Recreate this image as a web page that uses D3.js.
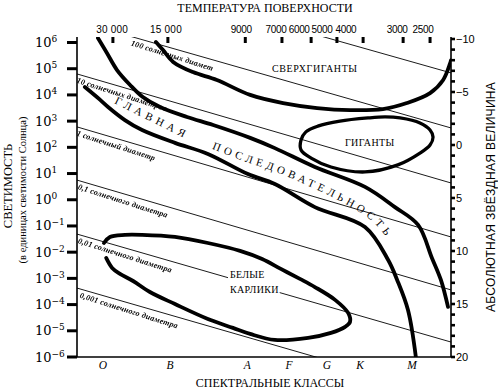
<!DOCTYPE html>
<html>
<head>
<meta charset="utf-8">
<script src="https://cdn.jsdelivr.net/npm/d3@7"></script>
<style>
  body { margin: 0; background: #fff; }
  svg { display: block; }
  .serif { font-family: 'Liberation Serif', 'DejaVu Serif', serif; }
  .sans { font-family: 'Liberation Sans', 'DejaVu Sans', sans-serif; }
  .gray { filter: grayscale(1); }
</style>
</head>
<body>
<svg id="chart" width="498" height="391"></svg>
<script>
// horizontal axis is a spectral index 0..100 (O on the left, M on the right)
const temperatures = ['30 000', '15 000', '9000', '7000', '6000', '5000', '4000', '3000', '2500'];
const temperatureTicks = [9.6, 24.3, 45.0, 54.8, 62.6, 69.5, 76.5, 87.2, 94.4];
const temperatureLabelAt = [9.4, 23.8, 43.9, 53.2, 59.4, 65.5, 71.9, 85.6, 92.5];

const spectralClasses = ['O', 'B', 'A', 'F', 'G', 'K', 'M'];
const spectralAt = [6.9, 24.9, 45.5, 56.7, 66.8, 75.7, 89.6];

const luminosityExponents = [-6, -5, -4, -3, -2, -1, 0, 1, 2, 3, 4, 5, 6];
const magnitudeLabels = [-10, -5, 0, 5, 10, 15, 20];

// lines of constant diameter: log10 L at the left and right edge
const diameterLabels = ['', '100 солнечных диамет', '10 солнечных диаметров', '1 солнечный диаметр',
  '0,1 солнечного диаметра', '0,01 солнечного диаметра', '0,001 солнечного диаметра'];
const diameterLeft = [8.88, 6.82, 4.80, 2.78, 0.75, -1.31, -3.37];
const diameterRight = [4.84, 2.74, 0.64, -1.42, -3.44, -5.43, -7.49];
const diameterLabelAt = [0, 15, 0.5, 0.5, 0.8, 0.8, 1.3];

// region outlines, [spectral index, log10 L]
const supergiantEdge = [[21.1, 6.02], [23.0, 5.71], [25.7, 5.26], [31.0, 4.87], [37.4, 4.57], [46.3, 4.00],
  [55.1, 3.69], [64.2, 3.50], [73.0, 3.42], [81.8, 3.46], [88.2, 3.69], [94.4, 4.07], [97.9, 4.57],
  [99.7, 5.18], [100, 5.33]];
const mainSequenceUpper = [[5.6, 6.17], [8.0, 5.60], [10.7, 4.95], [14.2, 4.38], [17.6, 3.92], [22.2, 3.54],
  [29.4, 3.16], [36.4, 2.85], [46.3, 2.36], [52.9, 1.97], [63.6, 1.25], [77.0, 0.49], [85.0, -0.28],
  [91.2, -0.96], [94.9, -2.22], [97.3, -3.06], [99.2, -4.09]];
const mainSequenceLower = [[2.1, 4.30], [6.2, 3.81], [8.3, 3.54], [12.8, 3.04], [17.4, 2.66], [26.2, 2.17],
  [35.0, 1.75], [45.7, 0.98], [52.9, 0.60], [63.6, -0.28], [77.0, -1.04], [83.2, -2.30], [85.6, -3.06],
  [88.5, -4.21], [90.6, -6.0]];
const giants = [[59.9, 1.90], [59.9, 2.28], [61.2, 2.59], [64.4, 2.81], [70.3, 3.00], [77.8, 3.12],
  [82.4, 3.16], [86.4, 3.12], [91.7, 2.93], [94.4, 2.66], [95.2, 2.39], [94.4, 2.09], [91.7, 1.78],
  [85.8, 1.33], [77.0, 1.06], [67.9, 1.25], [62.6, 1.59]];
const whiteDwarfs = [[7.2, -1.65], [8.8, -1.42], [12.8, -1.34], [17.4, -1.34], [26.2, -1.42], [35.0, -1.65],
  [43.6, -1.95], [49.5, -2.26], [54.5, -2.64], [59.6, -3.02], [63.6, -3.33], [69.0, -3.82], [72.5, -4.32],
  [73.0, -4.66], [71.7, -4.85], [67.9, -5.08], [61.8, -5.27], [52.9, -5.35], [46.3, -5.12], [41.7, -4.89],
  [35.0, -4.55], [26.2, -3.98], [19.5, -3.52], [15.0, -3.10], [11.5, -2.83], [9.4, -2.60], [7.8, -2.22]];

// text paths for the main sequence caption
const mainPathA = [[9.9, 3.69], [32.9, 2.05]];
const mainPathB = [[36.1, 1.94], [45.2, 1.44], [52.4, 1.10], [61.8, 0.53], [69.8, -0.01], [75.1, -0.43],
  [79.7, -0.92], [83.4, -1.57], [85.3, -1.99]];

const plot = { left: 77, right: 451, top: 37, bottom: 357 };
const x = d3.scaleLinear().domain([0, 100]).range([plot.left, plot.right]);
const y = d3.scaleLinear().domain([-6, 6]).range([357, 42.5]);
const yMag = d3.scaleLinear().domain([-10, 20]).range([39, 357]);

const svg = d3.select('#chart');
svg.append('rect').attr('width', 498).attr('height', 391).attr('fill', '#fff');

svg.append('clipPath')
  .attr('id', 'plot-clip')
  .append('rect')
  .attr('x', plot.left)
  .attr('y', plot.top)
  .attr('width', plot.right - plot.left)
  .attr('height', plot.bottom - plot.top);

const line = d3.line()
  .x(d => x(d[0]))
  .y(d => y(d[1]))
  .curve(d3.curveCatmullRom.alpha(0.5));

// --- constant diameter lines
const diameters = diameterLeft.map((l0, i) => ({
  label: diameterLabels[i], l0, l1: diameterRight[i], at: diameterLabelAt[i],
}));
const thin = svg.append('g').attr('clip-path', 'url(#plot-clip)');
thin.selectAll('line')
  .data(diameters)
  .join('line')
  .attr('x1', x(0))
  .attr('y1', d => y(d.l0))
  .attr('x2', x(100))
  .attr('y2', d => y(d.l1))
  .attr('stroke', '#000')
  .attr('stroke-width', 0.9);

thin.append('g')
  .attr('class', 'gray')
  .selectAll('text')
  .data(diameters.filter(d => d.label))
  .join('text')
  .attr('class', 'serif')
  .attr('font-style', 'italic')
  .attr('font-weight', 'bold')
  .attr('font-size', 8)
  .attr('letter-spacing', 0.25)
  .attr('fill', '#000')
  .attr('transform', d => {
    const px = x(d.at);
    const py = y(d.l0 + (d.l1 - d.l0) * d.at / 100);
    const angle = Math.atan2(y(d.l1) - y(d.l0), x(100) - x(0)) * 180 / Math.PI + 1.5;
    return `translate(${px},${py}) rotate(${angle})`;
  })
  .attr('y', 8.5)
  .text(d => d.label);

// --- white dwarf caption sits on the 0,01 line
const wd = svg.append('g').attr('class', 'serif').attr('font-size', 10);
const wdBg = wd.append('rect').attr('fill', '#fff');
wd.append('text').attr('x', x(40.9)).attr('y', y(-2.99)).attr('letter-spacing', 0.3).text('БЕЛЫЕ');
wd.append('text').attr('x', x(40.9)).attr('y', y(-3.56)).attr('letter-spacing', 0.3).text('КАРЛИКИ');
const wdBox = wd.node().getBBox();
wdBg.attr('x', wdBox.x - 2).attr('y', wdBox.y - 1)
  .attr('width', wdBox.width + 3).attr('height', wdBox.height + 2);

// --- thick outlines
const thick = svg.append('g')
  .attr('clip-path', 'url(#plot-clip)')
  .attr('fill', 'none')
  .attr('stroke', '#000')
  .attr('stroke-linecap', 'round')
  .attr('stroke-linejoin', 'round');

[supergiantEdge, mainSequenceUpper, mainSequenceLower, whiteDwarfs].forEach(pts => {
  thick.append('path').attr('d', line(pts)).attr('stroke-width', 3.8);
});
thick.append('path')
  .attr('d', d3.line().x(d => x(d[0])).y(d => y(d[1])).curve(d3.curveCatmullRomClosed.alpha(0.5))(giants))
  .attr('stroke-width', 3.3);

// --- region captions
const captions = svg.append('g').attr('class', 'serif').attr('font-size', 10);
captions.append('text')
  .attr('x', x(63.6)).attr('y', y(4.99)).attr('dy', '0.35em')
  .attr('text-anchor', 'middle').attr('letter-spacing', 0.6)
  .text('СВЕРХГИГАНТЫ');
captions.append('text')
  .attr('x', x(78.3)).attr('y', y(2.17)).attr('dy', '0.35em')
  .attr('text-anchor', 'middle').attr('letter-spacing', 0.4)
  .text('ГИГАНТЫ');

const defs = svg.append('defs');
const straight = d3.line().x(d => x(d[0])).y(d => y(d[1]));
defs.append('path').attr('id', 'ms-a').attr('d', straight(mainPathA));
defs.append('path').attr('id', 'ms-b').attr('d', line(mainPathB));
[['ms-a', 'ГЛАВНАЯ', 11, 4.3], ['ms-b', 'ПОСЛЕДОВАТЕЛЬНОСТЬ', 11, 3.9]].forEach(([id, word, size, gap]) => {
  captions.append('text')
    .attr('font-size', size)
    .attr('letter-spacing', gap)
    .append('textPath')
    .attr('href', `#${id}`)
    .text(word);
});

// --- frame
const frame = svg.append('g').attr('stroke', '#000').attr('stroke-width', 1.6);
frame.append('line').attr('x1', plot.left).attr('x2', plot.left).attr('y1', plot.top).attr('y2', plot.bottom);
frame.append('line').attr('x1', plot.right).attr('x2', plot.right).attr('y1', plot.top).attr('y2', plot.bottom);
frame.append('line').attr('x1', plot.left).attr('x2', plot.right).attr('y1', plot.bottom).attr('y2', plot.bottom);

// left axis: luminosity
const lumAxis = svg.append('g');
lumAxis.selectAll('line')
  .data(luminosityExponents)
  .join('line')
  .attr('x1', plot.left - 10).attr('x2', plot.left)
  .attr('y1', d => y(d)).attr('y2', d => y(d))
  .attr('stroke', '#000').attr('stroke-width', 3);
const lumLabel = lumAxis.selectAll('text')
  .data(luminosityExponents)
  .join('text')
  .attr('font-family', "'DejaVu Serif', serif")
  .attr('x', 35)
  .attr('y', d => y(d) + 4.5);
lumLabel.append('tspan').attr('font-size', 13).text('10');
lumLabel.append('tspan').attr('font-size', 9).attr('dy', -5)
  .text(d => (d < 0 ? '\u2212' + (-d) : d));

// right axis: absolute magnitude
const magAxis = svg.append('g');
magAxis.selectAll('line')
  .data(d3.range(-10, 21))
  .join('line')
  .attr('x1', plot.right).attr('x2', plot.right + 4)
  .attr('y1', d => yMag(d)).attr('y2', d => yMag(d))
  .attr('stroke', '#000').attr('stroke-width', 2.6);
magAxis.selectAll('text')
  .data(magnitudeLabels)
  .join('text')
  .attr('class', 'sans')
  .attr('font-size', 11)
  .attr('x', plot.right + 5)
  .attr('y', d => yMag(d))
  .attr('dy', '0.36em')
  .text(d => (d < 0 ? '\u2212' + (-d) : d));

// top axis: surface temperature
const tempAxis = svg.append('g');
tempAxis.selectAll('line')
  .data(temperatureTicks)
  .join('line')
  .attr('x1', d => x(d)).attr('x2', d => x(d))
  .attr('y1', plot.top).attr('y2', plot.top + 6)
  .attr('stroke', '#000').attr('stroke-width', 3);
tempAxis.selectAll('text')
  .data(temperatures)
  .join('text')
  .attr('class', 'sans')
  .attr('font-size', 10)
  .attr('letter-spacing', d => (d.length > 4 ? 0.2 : -0.35))
  .attr('text-anchor', 'middle')
  .attr('x', (d, i) => x(temperatureLabelAt[i]))
  .attr('y', 33)
  .text(d => d);

// bottom axis: spectral classes
svg.append('g').selectAll('text')
  .data(spectralClasses)
  .join('text')
  .attr('class', 'serif')
  .attr('font-style', 'italic')
  .attr('font-size', 11.5)
  .attr('text-anchor', 'middle')
  .attr('x', (d, i) => x(spectralAt[i]))
  .attr('y', 369)
  .text(d => d);

// titles
const titles = svg.append('g');
titles.append('text').attr('class', 'serif').attr('font-size', 12)
  .attr('text-anchor', 'middle').attr('x', 265).attr('y', 12)
  .text('ТЕМПЕРАТУРА ПОВЕРХНОСТИ');
titles.append('text').attr('class', 'serif').attr('font-size', 12)
  .attr('text-anchor', 'middle').attr('x', 270).attr('y', 387)
  .text('СПЕКТРАЛЬНЫЕ КЛАССЫ');
titles.append('text').attr('class', 'serif').attr('font-size', 12.5)
  .attr('text-anchor', 'middle').attr('transform', 'translate(12,186) rotate(-90)')
  .text('СВЕТИМОСТЬ');
titles.append('text').attr('class', 'serif').attr('font-size', 10.5)
  .attr('text-anchor', 'middle').attr('transform', 'translate(26,190) rotate(-90)')
  .text('(в единицах светимости Солнца)');
titles.append('text').attr('class', 'sans').attr('font-size', 12)
  .attr('letter-spacing', 0.3)
  .attr('text-anchor', 'middle').attr('transform', 'translate(495,197) rotate(-90)')
  .text('АБСОЛЮТНАЯ ЗВЁЗДНАЯ ВЕЛИЧИНА');
</script>
</body>
</html>
